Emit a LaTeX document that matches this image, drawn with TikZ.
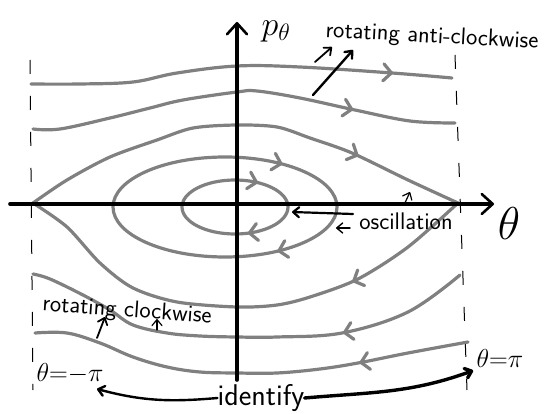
\RequirePackage{fix-cm}
\documentclass[tikz,border=0pt]{standalone}
\usepackage{xcolor}
\definecolor{phasegray}{HTML}{808080}
\usepackage{tikz}
\usetikzlibrary{arrows.meta, decorations.markings}

\begin{document}
\begin{tikzpicture}[x=1pt, y=-1pt,
  >={Straight Barb[length=6pt, width=10pt, round]},
  orbitline/.style={draw=phasegray, line width=3.2pt, line cap=round, line join=round},
  flowat/.style={postaction={decorate, decoration={markings,
      mark=at position #1 with {\arrow{Straight Barb[length=8pt, width=17pt, round]}}}}},
  axisline/.style={line width=3.6pt, line cap=round,
      -{Straight Barb[length=11pt, width=20pt, round, line width=2.6pt]}},
  edgeline/.style={line width=1pt, dash pattern=on 14pt off 22pt},
  hand/.style={font=\sffamily\fontsize{24}{26}\selectfont, inner sep=0pt},
  pointer/.style={->, line width=1.8pt, line cap=round}]

  \useasboundingbox (0,0) rectangle (551,414);

  % theta = -pi and theta = pi
  \draw[edgeline] (30,60) -- (33,390);
  \draw[edgeline] (455,55) -- (467,390);

  % rotating orbits, top
  \draw[orbitline, flowat=0.86] plot[smooth, tension=0.6] coordinates
    {(31,84) (80,84) (133,82) (177,73) (237,66) (300,67) (392,73) (452,78)};
  \draw[orbitline, flowat=0.76] plot[smooth, tension=0.6] coordinates
    {(33,129) (60,129) (110,118) (150,108) (183,100) (237,92) (257,91) (300,98) (355,110) (410,121) (455,123)};

  % separatrix
  \draw[orbitline, flowat=0.76] plot[smooth, tension=0.5] coordinates
    {(33,203) (67,180) (110,157) (157,140) (193,128) (237,125) (277,127) (310,138) (352,153) (408,180) (458,203)};
  \draw[orbitline, flowat=0.27] plot[smooth, tension=0.5] coordinates
    {(458,203) (408,247) (358,279) (310,297) (277,305) (237,307) (177,302) (133,288) (100,263) (67,227) (33,203)};

  % rotating orbits, bottom
  \draw[orbitline, flowat=0.29] plot[smooth, tension=0.6] coordinates
    {(460,275) (408,312) (342,333) (277,337) (237,337) (200,336) (167,333) (133,325) (110,310) (83,295) (50,279) (33,274)};
  \draw[orbitline, flowat=0.25] plot[smooth, tension=0.6] coordinates
    {(468,342) (408,353) (358,363) (320,369) (277,373) (237,373) (200,372) (167,367) (133,357) (100,343) (67,333) (35,333)};

  % oscillations
  \draw[orbitline, flowat=0.15, flowat=0.86] (225,207) ellipse [x radius=112, y radius=50];
  \draw[orbitline, flowat=0.2, flowat=0.84] (235,207) ellipse [x radius=53, y radius=27];

  % axes
  \draw[axisline] (10,204) -- (494,204);
  \draw[axisline] (237,380) -- (237,22);
  \node (ptheta) at (276,31) {\fontsize{34}{36}\selectfont$p_\theta$};
  \node (thetaax) at (509,224) {\fontsize{46}{48}\selectfont$\theta$};

  % labels
  \node[hand, rotate=-3] (anticw) at (432,37) {rotating anti-clockwise};
  \node[hand, rotate=-4] (clockw) at (127,311) {rotating clockwise};
  \node[hand, font=\sffamily\fontsize{24}{26}\selectfont] (osc) at (406,221) {oscillation};
  \node[hand, font=\sffamily\fontsize{30}{32}\selectfont] (ident) at (261,398) {identify};
  \node (mpi) at (70,374) {\fontsize{26}{28}\selectfont$\theta{=}{-}\pi$};
  \node (ppi) at (500,358) {\fontsize{26}{28}\selectfont$\theta{=}\pi$};

  \coordinate (acw1) at (315,62);
  \coordinate (acw1tip) at (332,47);
  \coordinate (acw2) at (313,95);
  \coordinate (acw2tip) at (353,50);
  \draw[pointer] (acw1) -- (acw1tip);
  \draw[pointer, line width=2.4pt] (acw2) -- (acw2tip);

  \coordinate (cw1) at (97,338);
  \coordinate (cw1tip) at (105,317);
  \coordinate (cw2) at (157,330);
  \coordinate (cw2tip) at (157,319);
  \draw[pointer] (cw1) -- (cw1tip);
  \draw[pointer, line width=1.2pt] (cw2) -- (cw2tip);

  \coordinate (inner) at (292,212);
  \coordinate (middle) at (336,228);
  \coordinate (sepx) at (410,192);
  \draw[pointer, line width=2.2pt] (353,214) -- (inner);
  \draw[pointer, line width=1.4pt] (350,228) -- (middle);
  \draw[pointer, line width=1.2pt] (404,205) -- (sepx);

  \draw[pointer, line width=2.4pt] (ident.west) to[out=185, in=-15] (97,389);
  \draw[pointer, line width=3.4pt] (ident.east) to[out=5, in=200] (ppi.south west);
\end{tikzpicture}
\end{document}
